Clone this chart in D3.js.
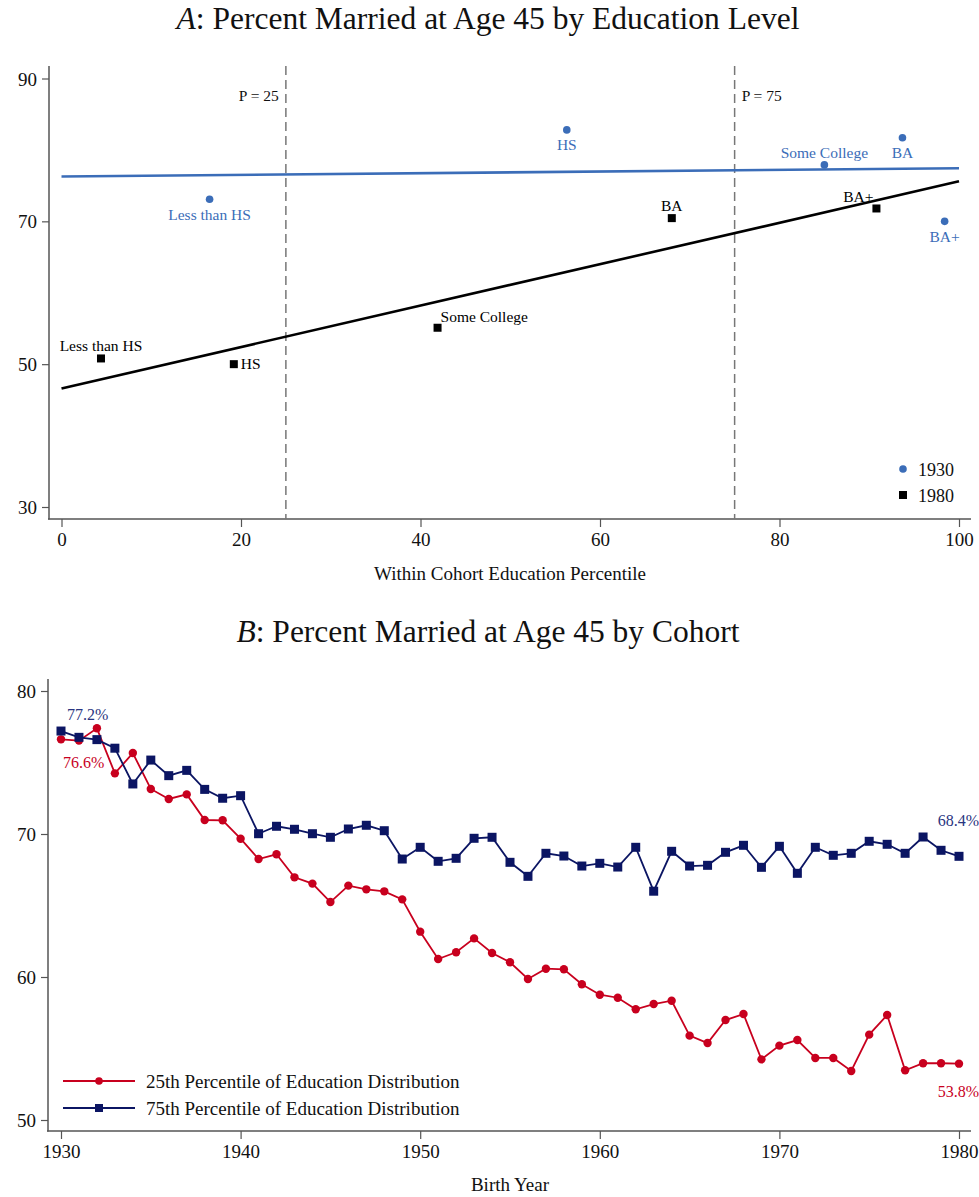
<!DOCTYPE html>
<html>
<head>
<meta charset="utf-8">
<script src="https://cdn.jsdelivr.net/npm/d3@7"></script>
<style>
  html, body { margin: 0; padding: 0; background: #fff; }
  svg { display: block; }
  svg text { font-family: "Liberation Serif", "Times New Roman", serif !important; }
</style>
</head>
<body>
<svg id="chart" width="979" height="1197"></svg>
<script>
// ---------- Panel A data ----------
const eduLevels = ["Less than HS", "HS", "Some College", "BA", "BA+"];
const pct1930 = [16.5, 56.3, 85.0, 93.7, 98.4];
const married1930 = [73.1, 82.8, 77.9, 81.7, 70.0];
const pct1980 = [4.4, 19.2, 41.9, 68.0, 90.8];
const married1980 = [50.8, 50.0, 55.1, 70.45, 71.8];
const fit1930 = [76.27, 77.44];   // fitted value at percentile 0 and 100
const fit1980 = [46.6, 75.6];
const fitX = [0, 100];
const refPercentiles = [25, 75];
const ticksAx = [0, 20, 40, 60, 80, 100];
const ticksAy = [30, 50, 70, 90];

// ---------- Panel B data ----------
const birthYears = d3.range(1930, 1981);
const p25 = [76.62, 76.53, 77.39, 74.24, 75.66, 73.15, 72.45, 72.77, 70.98, 70.96,
             69.67, 68.25, 68.58, 66.97, 66.53, 65.24, 66.39, 66.13, 65.99, 65.43,
             63.17, 61.26, 61.73, 62.70, 61.68, 61.03, 59.86, 60.58, 60.54, 59.49,
             58.76, 58.55, 57.74, 58.11, 58.34, 55.90, 55.38, 56.99, 57.41, 54.24,
             55.20, 55.59, 54.34, 54.34, 53.43, 55.97, 57.34, 53.48, 53.97, 53.97,
             53.94];
const p75 = [77.20, 76.76, 76.60, 76.00, 73.50, 75.17, 74.08, 74.45, 73.12, 72.50,
             72.68, 70.02, 70.54, 70.33, 70.02, 69.77, 70.35, 70.61, 70.23, 68.25,
             69.07, 68.09, 68.30, 69.70, 69.77, 68.02, 67.04, 68.65, 68.46, 67.76,
             67.95, 67.69, 69.07, 66.00, 68.79, 67.76, 67.81, 68.72, 69.21, 67.67,
             69.14, 67.25, 69.07, 68.51, 68.65, 69.49, 69.28, 68.65, 69.79, 68.86,
             68.44];
const ticksBx = [1930, 1940, 1950, 1960, 1970, 1980];
const ticksBy = [50, 60, 70, 80];
const seriesNames = ["25th Percentile of Education Distribution", "75th Percentile of Education Distribution"];
const endLabels25 = ["76.6%", "53.8%"];
const endLabels75 = ["77.2%", "68.4%"];

// ---------- styles ----------
const BLUE = "#3b6db8";
const RED = "#c8001e";
const NAVY = "#0b1563";
const AXIS = "#555";

const svg = d3.select("#chart");

// ================= PANEL A =================
const xA = d3.scaleLinear().domain([0, 100]).range([61.5, 959]);
const yA = d3.scaleLinear().domain([30, 90]).range([507, 78.5]);
const gA = svg.append("g");

gA.append("text").attr("x", 488).attr("y", 29).attr("text-anchor", "middle")
  .attr("font-size", 31.5).attr("fill", "#111")
  .html('<tspan font-style="italic">A</tspan>: Percent Married at Age 45 by Education Level');

// axes
const axAx = gA.append("g").attr("transform", "translate(0,519)")
  .call(d3.axisBottom(xA).tickValues(ticksAx).tickSize(8).tickSizeOuter(0).tickPadding(6));
const axAy = gA.append("g").attr("transform", "translate(49,0)")
  .call(d3.axisLeft(yA).tickValues(ticksAy).tickSize(7).tickSizeOuter(0).tickPadding(5));
[axAx, axAy].forEach(a => {
  a.select(".domain").remove();
  a.selectAll("line").attr("stroke", AXIS).attr("stroke-width", 1.2);
  a.selectAll("text").attr("font-size", 19).attr("fill", "#111");
});
axAy.selectAll("text").attr("dy", "0.35em");
gA.append("line").attr("x1", 49).attr("x2", 49).attr("y1", 66).attr("y2", 519.5).attr("stroke", AXIS).attr("stroke-width", 1.5);
gA.append("line").attr("x1", 48).attr("x2", 971).attr("y1", 519).attr("y2", 519).attr("stroke", AXIS).attr("stroke-width", 1.5);

gA.append("text").attr("x", 510).attr("y", 580).attr("text-anchor", "middle")
  .attr("font-size", 19).attr("fill", "#111").text("Within Cohort Education Percentile");

// reference lines
refPercentiles.forEach((p, i) => {
  gA.append("line").attr("x1", xA(p)).attr("x2", xA(p)).attr("y1", 66).attr("y2", 519)
    .attr("stroke", "#777").attr("stroke-width", 1.5).attr("stroke-dasharray", "9,5");
  gA.append("text")
    .attr("x", i === 0 ? xA(p) - 7 : xA(p) + 7).attr("y", 101)
    .attr("text-anchor", i === 0 ? "end" : "start")
    .attr("font-size", 15.5).attr("fill", "#111").text("P = " + p);
});

// fit lines
const lineA = d3.line().x(d => xA(d[0])).y(d => yA(d[1]));
gA.append("path").datum(fitX.map((x, i) => [x, fit1930[i]])).attr("d", lineA)
  .attr("fill", "none").attr("stroke", BLUE).attr("stroke-width", 2.6);
gA.append("path").datum(fitX.map((x, i) => [x, fit1980[i]])).attr("d", lineA)
  .attr("fill", "none").attr("stroke", "#000").attr("stroke-width", 2.6);

// 1930 points
gA.selectAll(".p30").data(eduLevels).enter().append("circle")
  .attr("cx", (d, i) => xA(pct1930[i])).attr("cy", (d, i) => yA(married1930[i]))
  .attr("r", 3.8).attr("fill", BLUE);
// 1930 labels: [dx, dy, anchor]
const lab30 = [[0, 21, "middle"], [0, 20, "middle"], [0, -7, "middle"], [0, 20, "middle"], [0, 21, "middle"]];
gA.selectAll(".l30").data(eduLevels).enter().append("text")
  .attr("x", (d, i) => xA(pct1930[i]) + lab30[i][0]).attr("y", (d, i) => yA(married1930[i]) + lab30[i][1])
  .attr("text-anchor", (d, i) => lab30[i][2]).attr("font-size", 15.5).attr("fill", BLUE).text(d => d);

// 1980 points
gA.selectAll(".p80").data(eduLevels).enter().append("rect")
  .attr("x", (d, i) => xA(pct1980[i]) - 4).attr("y", (d, i) => yA(married1980[i]) - 4)
  .attr("width", 8).attr("height", 8).attr("fill", "#000");
const lab80 = [[0, -7, "middle"], [7, 5, "start"], [3, -6, "start"], [0, -7, "middle"], [-3, -6, "end"]];
gA.selectAll(".l80").data(eduLevels).enter().append("text")
  .attr("x", (d, i) => xA(pct1980[i]) + lab80[i][0]).attr("y", (d, i) => yA(married1980[i]) + lab80[i][1])
  .attr("text-anchor", (d, i) => lab80[i][2]).attr("font-size", 15.5).attr("fill", "#000").text(d => d);

// legend A
gA.append("circle").attr("cx", 903).attr("cy", 469).attr("r", 3.8).attr("fill", BLUE);
gA.append("text").attr("x", 918).attr("y", 475.5).attr("font-size", 18).attr("fill", "#111").text("1930");
gA.append("rect").attr("x", 899).attr("y", 491).attr("width", 8).attr("height", 8).attr("fill", "#000");
gA.append("text").attr("x", 918).attr("y", 502).attr("font-size", 18).attr("fill", "#111").text("1980");

// ================= PANEL B =================
const xB = d3.scaleLinear().domain([1930, 1980]).range([61, 959]);
const yB = d3.scaleLinear().domain([50, 80]).range([1120, 691]);
const gB = svg.append("g");

gB.append("text").attr("x", 488).attr("y", 642).attr("text-anchor", "middle")
  .attr("font-size", 31.5).attr("fill", "#111")
  .html('<tspan font-style="italic">B</tspan>: Percent Married at Age 45 by Cohort');

const axBx = gB.append("g").attr("transform", "translate(0,1131)")
  .call(d3.axisBottom(xB).tickValues(ticksBx).tickFormat(d3.format("d")).tickSize(8).tickSizeOuter(0).tickPadding(6));
const axBy = gB.append("g").attr("transform", "translate(48,0)")
  .call(d3.axisLeft(yB).tickValues(ticksBy).tickSize(7).tickSizeOuter(0).tickPadding(5));
[axBx, axBy].forEach(a => {
  a.select(".domain").remove();
  a.selectAll("line").attr("stroke", AXIS).attr("stroke-width", 1.2);
  a.selectAll("text").attr("font-size", 19).attr("fill", "#111");
});
axBy.selectAll("text").attr("dy", "0.35em");
gB.append("line").attr("x1", 48).attr("x2", 48).attr("y1", 679).attr("y2", 1131.5).attr("stroke", AXIS).attr("stroke-width", 1.5);
gB.append("line").attr("x1", 47).attr("x2", 971).attr("y1", 1131).attr("y2", 1131).attr("stroke", AXIS).attr("stroke-width", 1.5);

gB.append("text").attr("x", 510).attr("y", 1191).attr("text-anchor", "middle")
  .attr("font-size", 19).attr("fill", "#111").text("Birth Year");

const lineB = d3.line().x((d, i) => xB(birthYears[i])).y(d => yB(d));
gB.append("path").datum(p25).attr("d", lineB).attr("fill", "none").attr("stroke", RED).attr("stroke-width", 1.8);
gB.append("path").datum(p75).attr("d", lineB).attr("fill", "none").attr("stroke", NAVY).attr("stroke-width", 1.8);
gB.selectAll(".c25").data(p25).enter().append("circle")
  .attr("cx", (d, i) => xB(birthYears[i])).attr("cy", d => yB(d)).attr("r", 4.2).attr("fill", RED);
gB.selectAll(".s75").data(p75).enter().append("rect")
  .attr("x", (d, i) => xB(birthYears[i]) - 4.5).attr("y", d => yB(d) - 4.5)
  .attr("width", 9).attr("height", 9).attr("fill", NAVY);

// end labels
gB.append("text").attr("x", xB(birthYears[0]) + 6).attr("y", yB(p75[0]) - 11).attr("font-size", 16).attr("fill", "#2a3580").text(endLabels75[0]);
gB.append("text").attr("x", xB(birthYears[0]) + 2).attr("y", yB(p25[0]) + 29).attr("font-size", 16).attr("fill", RED).text(endLabels25[0]);
gB.append("text").attr("x", 979).attr("y", yB(p75[p75.length - 1]) - 30).attr("text-anchor", "end").attr("font-size", 16).attr("fill", "#2a3580").text(endLabels75[1]);
gB.append("text").attr("x", 979).attr("y", yB(p25[p25.length - 1]) + 33).attr("text-anchor", "end").attr("font-size", 16).attr("fill", RED).text(endLabels25[1]);

// legend B
const legB = [[RED, "circle"], [NAVY, "square"]];
legB.forEach((l, i) => {
  const y = 1081 + i * 27;
  gB.append("line").attr("x1", 63).attr("x2", 135).attr("y1", y).attr("y2", y).attr("stroke", l[0]).attr("stroke-width", 1.8);
  if (l[1] === "circle") gB.append("circle").attr("cx", 99).attr("cy", y).attr("r", 3.8).attr("fill", l[0]);
  else gB.append("rect").attr("x", 95).attr("y", y - 4).attr("width", 8).attr("height", 8).attr("fill", l[0]);
  gB.append("text").attr("x", 146).attr("y", y + 6.5).attr("font-size", 19).attr("fill", "#111").text(seriesNames[i]);
});
</script>
</body>
</html>
